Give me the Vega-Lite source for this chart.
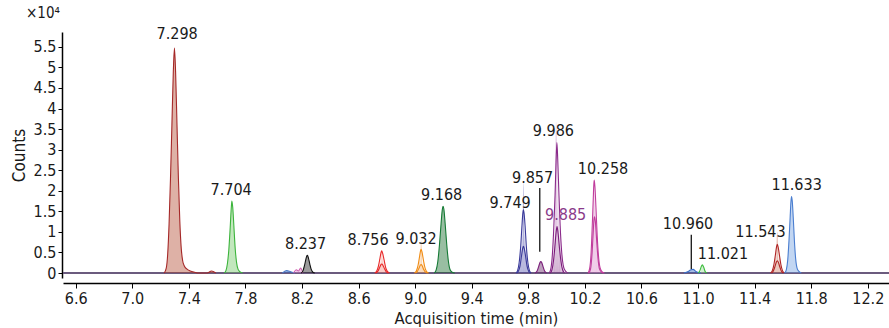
{
  "$schema": "https://vega.github.io/schema/vega-lite/v6.json",
  "width": 826,
  "height": 246,
  "autosize": {"type": "none"},
  "padding": {"left": 63, "top": 32, "right": 0, "bottom": 50},
  "background": "white",
  "config": {"font": "DejaVu Sans Condensed", "view": {"stroke": null}},
  "title": {"text": "×10⁴", "anchor": "start", "frame": "group", "dx": -37, "offset": 5, "fontSize": 15, "fontWeight": "normal", "color": "#1a1a1a", "font": "DejaVu Sans Condensed"},
  "datasets": {
    "traces": [
      {"s":"p1","t":7.225,"v":0},{"s":"p1","t":7.24,"v":0.12},{"s":"p1","t":7.25,"v":0.45},{"s":"p1","t":7.26,"v":1.2},{"s":"p1","t":7.27,"v":2.3},{"s":"p1","t":7.28,"v":3.6},{"s":"p1","t":7.29,"v":4.9},{"s":"p1","t":7.298,"v":5.47},{"s":"p1","t":7.306,"v":4.9},{"s":"p1","t":7.316,"v":3.6},{"s":"p1","t":7.326,"v":2.3},{"s":"p1","t":7.336,"v":1.25},{"s":"p1","t":7.346,"v":0.6},{"s":"p1","t":7.356,"v":0.3},{"s":"p1","t":7.368,"v":0.17},{"s":"p1","t":7.385,"v":0.1},{"s":"p1","t":7.41,"v":0.05},{"s":"p1","t":7.44,"v":0.02},{"s":"p1","t":7.47,"v":0},{"s":"p1","t":7.53,"v":0},{"s":"p1","t":7.56,"v":0.05},{"s":"p1","t":7.59,"v":0},
      {"s":"p2","t":7.65,"v":0},{"s":"p2","t":7.662,"v":0.06},{"s":"p2","t":7.672,"v":0.22},{"s":"p2","t":7.682,"v":0.55},{"s":"p2","t":7.692,"v":1.1},{"s":"p2","t":7.7,"v":1.6},{"s":"p2","t":7.704,"v":1.75},{"s":"p2","t":7.71,"v":1.6},{"s":"p2","t":7.718,"v":1.15},{"s":"p2","t":7.727,"v":0.62},{"s":"p2","t":7.737,"v":0.26},{"s":"p2","t":7.748,"v":0.09},{"s":"p2","t":7.762,"v":0.03},{"s":"p2","t":7.78,"v":0},
      {"s":"nb","t":8.06,"v":0},{"s":"nb","t":8.09,"v":0.06},{"s":"nb","t":8.12,"v":0.03},{"s":"nb","t":8.15,"v":0},
      {"s":"np","t":8.14,"v":0},{"s":"np","t":8.16,"v":0.08},{"s":"np","t":8.175,"v":0.05},{"s":"np","t":8.19,"v":0.12},{"s":"np","t":8.205,"v":0},
      {"s":"p3","t":8.195,"v":0},{"s":"p3","t":8.207,"v":0.06},{"s":"p3","t":8.217,"v":0.18},{"s":"p3","t":8.227,"v":0.33},{"s":"p3","t":8.234,"v":0.42},{"s":"p3","t":8.238,"v":0.43},{"s":"p3","t":8.245,"v":0.37},{"s":"p3","t":8.255,"v":0.22},{"s":"p3","t":8.265,"v":0.09},{"s":"p3","t":8.277,"v":0.02},{"s":"p3","t":8.29,"v":0},
      {"s":"p4","t":8.715,"v":0},{"s":"p4","t":8.728,"v":0.05},{"s":"p4","t":8.74,"v":0.17},{"s":"p4","t":8.75,"v":0.34},{"s":"p4","t":8.758,"v":0.49},{"s":"p4","t":8.763,"v":0.54},{"s":"p4","t":8.77,"v":0.48},{"s":"p4","t":8.78,"v":0.32},{"s":"p4","t":8.791,"v":0.14},{"s":"p4","t":8.803,"v":0.04},{"s":"p4","t":8.818,"v":0},
      {"s":"p4b","t":8.722,"v":0},{"s":"p4b","t":8.735,"v":0.04},{"s":"p4b","t":8.747,"v":0.12},{"s":"p4b","t":8.757,"v":0.2},{"s":"p4b","t":8.764,"v":0.22},{"s":"p4b","t":8.773,"v":0.18},{"s":"p4b","t":8.785,"v":0.09},{"s":"p4b","t":8.798,"v":0.02},{"s":"p4b","t":8.81,"v":0},
      {"s":"p5","t":8.995,"v":0},{"s":"p5","t":9.008,"v":0.05},{"s":"p5","t":9.02,"v":0.18},{"s":"p5","t":9.03,"v":0.38},{"s":"p5","t":9.037,"v":0.53},{"s":"p5","t":9.042,"v":0.58},{"s":"p5","t":9.049,"v":0.5},{"s":"p5","t":9.059,"v":0.3},{"s":"p5","t":9.07,"v":0.12},{"s":"p5","t":9.082,"v":0.03},{"s":"p5","t":9.095,"v":0},
      {"s":"p5b","t":9.002,"v":0},{"s":"p5b","t":9.015,"v":0.04},{"s":"p5b","t":9.027,"v":0.12},{"s":"p5b","t":9.036,"v":0.19},{"s":"p5b","t":9.042,"v":0.21},{"s":"p5b","t":9.05,"v":0.17},{"s":"p5b","t":9.061,"v":0.08},{"s":"p5b","t":9.074,"v":0.02},{"s":"p5b","t":9.088,"v":0},
      {"s":"p6","t":9.135,"v":0},{"s":"p6","t":9.148,"v":0.07},{"s":"p6","t":9.16,"v":0.28},{"s":"p6","t":9.172,"v":0.7},{"s":"p6","t":9.183,"v":1.2},{"s":"p6","t":9.192,"v":1.55},{"s":"p6","t":9.197,"v":1.62},{"s":"p6","t":9.203,"v":1.55},{"s":"p6","t":9.212,"v":1.2},{"s":"p6","t":9.223,"v":0.7},{"s":"p6","t":9.235,"v":0.28},{"s":"p6","t":9.247,"v":0.08},{"s":"p6","t":9.262,"v":0.02},{"s":"p6","t":9.28,"v":0},
      {"s":"p7","t":9.712,"v":0},{"s":"p7","t":9.724,"v":0.06},{"s":"p7","t":9.735,"v":0.25},{"s":"p7","t":9.746,"v":0.65},{"s":"p7","t":9.755,"v":1.15},{"s":"p7","t":9.761,"v":1.45},{"s":"p7","t":9.765,"v":1.54},{"s":"p7","t":9.77,"v":1.45},{"s":"p7","t":9.777,"v":1.15},{"s":"p7","t":9.786,"v":0.65},{"s":"p7","t":9.797,"v":0.25},{"s":"p7","t":9.808,"v":0.06},{"s":"p7","t":9.82,"v":0},
      {"s":"p7b","t":9.718,"v":0},{"s":"p7b","t":9.73,"v":0.05},{"s":"p7b","t":9.741,"v":0.17},{"s":"p7b","t":9.752,"v":0.42},{"s":"p7b","t":9.76,"v":0.6},{"s":"p7b","t":9.765,"v":0.65},{"s":"p7b","t":9.771,"v":0.6},{"s":"p7b","t":9.78,"v":0.42},{"s":"p7b","t":9.791,"v":0.17},{"s":"p7b","t":9.803,"v":0.04},{"s":"p7b","t":9.815,"v":0},
      {"s":"p8","t":9.848,"v":0},{"s":"p8","t":9.862,"v":0.05},{"s":"p8","t":9.874,"v":0.17},{"s":"p8","t":9.883,"v":0.26},{"s":"p8","t":9.888,"v":0.28},{"s":"p8","t":9.894,"v":0.26},{"s":"p8","t":9.903,"v":0.17},{"s":"p8","t":9.915,"v":0.05},{"s":"p8","t":9.93,"v":0},
      {"s":"p9","t":9.948,"v":0},{"s":"p9","t":9.96,"v":0.12},{"s":"p9","t":9.97,"v":0.45},{"s":"p9","t":9.98,"v":1.1},{"s":"p9","t":9.989,"v":1.9},{"s":"p9","t":9.996,"v":2.7},{"s":"p9","t":10.002,"v":3.17},{"s":"p9","t":10.008,"v":2.75},{"s":"p9","t":10.016,"v":1.95},{"s":"p9","t":10.025,"v":1.15},{"s":"p9","t":10.035,"v":0.55},{"s":"p9","t":10.046,"v":0.2},{"s":"p9","t":10.06,"v":0.06},{"s":"p9","t":10.078,"v":0},
      {"s":"p9b","t":9.955,"v":0},{"s":"p9b","t":9.967,"v":0.08},{"s":"p9b","t":9.978,"v":0.3},{"s":"p9b","t":9.988,"v":0.65},{"s":"p9b","t":9.996,"v":0.98},{"s":"p9b","t":10.003,"v":1.13},{"s":"p9b","t":10.01,"v":0.98},{"s":"p9b","t":10.019,"v":0.65},{"s":"p9b","t":10.03,"v":0.3},{"s":"p9b","t":10.042,"v":0.08},{"s":"p9b","t":10.056,"v":0},
      {"s":"p10","t":10.222,"v":0},{"s":"p10","t":10.234,"v":0.12},{"s":"p10","t":10.244,"v":0.5},{"s":"p10","t":10.252,"v":1.15},{"s":"p10","t":10.259,"v":1.8},{"s":"p10","t":10.263,"v":2.15},{"s":"p10","t":10.266,"v":2.26},{"s":"p10","t":10.271,"v":2.1},{"s":"p10","t":10.278,"v":1.6},{"s":"p10","t":10.287,"v":0.9},{"s":"p10","t":10.297,"v":0.38},{"s":"p10","t":10.308,"v":0.12},{"s":"p10","t":10.322,"v":0.03},{"s":"p10","t":10.338,"v":0},
      {"s":"p10b","t":10.228,"v":0},{"s":"p10b","t":10.24,"v":0.1},{"s":"p10b","t":10.25,"v":0.45},{"s":"p10b","t":10.258,"v":0.95},{"s":"p10b","t":10.264,"v":1.3},{"s":"p10b","t":10.268,"v":1.37},{"s":"p10b","t":10.274,"v":1.25},{"s":"p10b","t":10.282,"v":0.85},{"s":"p10b","t":10.292,"v":0.38},{"s":"p10b","t":10.303,"v":0.1},{"s":"p10b","t":10.318,"v":0.02},{"s":"p10b","t":10.332,"v":0},
      {"s":"p11","t":10.9,"v":0},{"s":"p11","t":10.93,"v":0.04},{"s":"p11","t":10.95,"v":0.08},{"s":"p11","t":10.965,"v":0.09},{"s":"p11","t":10.985,"v":0.04},{"s":"p11","t":11.0,"v":0.01},{"s":"p11","t":11.02,"v":0},
      {"s":"p12","t":11.0,"v":0},{"s":"p12","t":11.012,"v":0.05},{"s":"p12","t":11.022,"v":0.15},{"s":"p12","t":11.03,"v":0.2},{"s":"p12","t":11.04,"v":0.14},{"s":"p12","t":11.05,"v":0.04},{"s":"p12","t":11.062,"v":0},
      {"s":"p13","t":11.512,"v":0},{"s":"p13","t":11.525,"v":0.06},{"s":"p13","t":11.536,"v":0.2},{"s":"p13","t":11.546,"v":0.42},{"s":"p13","t":11.554,"v":0.62},{"s":"p13","t":11.56,"v":0.7},{"s":"p13","t":11.567,"v":0.62},{"s":"p13","t":11.576,"v":0.42},{"s":"p13","t":11.586,"v":0.2},{"s":"p13","t":11.597,"v":0.06},{"s":"p13","t":11.61,"v":0},
      {"s":"p13b","t":11.52,"v":0},{"s":"p13b","t":11.532,"v":0.05},{"s":"p13b","t":11.543,"v":0.15},{"s":"p13b","t":11.553,"v":0.26},{"s":"p13b","t":11.56,"v":0.3},{"s":"p13b","t":11.568,"v":0.26},{"s":"p13b","t":11.578,"v":0.15},{"s":"p13b","t":11.589,"v":0.05},{"s":"p13b","t":11.602,"v":0},
      {"s":"p14","t":11.612,"v":0},{"s":"p14","t":11.624,"v":0.08},{"s":"p14","t":11.634,"v":0.32},{"s":"p14","t":11.643,"v":0.8},{"s":"p14","t":11.651,"v":1.35},{"s":"p14","t":11.657,"v":1.75},{"s":"p14","t":11.661,"v":1.86},{"s":"p14","t":11.666,"v":1.75},{"s":"p14","t":11.673,"v":1.35},{"s":"p14","t":11.681,"v":0.8},{"s":"p14","t":11.69,"v":0.35},{"s":"p14","t":11.7,"v":0.12},{"s":"p14","t":11.713,"v":0.04},{"s":"p14","t":11.73,"v":0}
    ],
    "base": [{"t":6.51,"v":0},{"t":12.35,"v":0}],
    "leaders": [{"t":9.881,"v1":2.07,"v2":0.52},{"t":10.952,"v1":0.93,"v2":0.1}],
    "labels": [
      {"label":"7.298","t":7.317,"v":5.81},
      {"label":"7.704","t":7.699,"v":2.02},
      {"label":"8.237","t":8.225,"v":0.7},
      {"label":"8.756","t":8.667,"v":0.8},
      {"label":"9.032","t":9.006,"v":0.84},
      {"label":"9.168","t":9.187,"v":1.9},
      {"label":"9.749","t":9.671,"v":1.71},
      {"label":"9.857","t":9.83,"v":2.31},
      {"label":"9.986","t":9.977,"v":3.45},
      {"label":"9.885","t":10.064,"v":1.41},
      {"label":"10.258","t":10.328,"v":2.53},
      {"label":"10.960","t":10.929,"v":1.2},
      {"label":"11.021","t":11.176,"v":0.46},
      {"label":"11.543","t":11.441,"v":1.0},
      {"label":"11.633","t":11.697,"v":2.14}
    ]
  },
  "encoding": {
    "x": {"field": "t", "type": "quantitative",
      "scale": {"domain": [6.51, 12.35], "nice": false, "zero": false},
      "axis": {"title": "Acquisition time (min)", "values": [6.6,7.0,7.4,7.8,8.2,8.6,9.0,9.4,9.8,10.2,10.6,11.0,11.4,11.8,12.2], "format": ".1f", "offset": 5, "grid": false, "domainColor": "#000", "domainWidth": 1.5, "tickColor": "#000", "tickSize": 5, "labelFontSize": 16, "labelColor": "#1a1a1a", "labelPadding": 2, "titleFontSize": 16.5, "titleFontWeight": "normal", "titleColor": "#1a1a1a", "titlePadding": 4}},
    "y": {"field": "v", "type": "quantitative",
      "scale": {"domain": [-0.12, 5.86], "nice": false, "zero": false},
      "axis": {"title": "Counts", "values": [0,0.5,1,1.5,2,2.5,3,3.5,4,4.5,5,5.5], "format": "~g", "offset": 1, "grid": false, "domainColor": "#000", "domainWidth": 1.5, "tickColor": "#000", "tickSize": 4, "labelFontSize": 16, "labelColor": "#1a1a1a", "labelPadding": 2, "titleFontSize": 17, "titleFontWeight": "normal", "titleColor": "#1a1a1a", "titlePadding": 5}}
  },
  "layer": [
    {
      "data": {"name": "base"},
      "mark": {"type": "line", "color": "#6b5b7e", "strokeWidth": 2},
      "encoding": {}
    },
    {
      "data": {"name": "traces"},
      "mark": {"type": "area", "fillOpacity": 0.42, "interpolate": "monotone"},
      "encoding": {
        "detail": {"field": "s"},
        "fill": {"field": "s", "type": "nominal", "legend": null,
          "scale": {"domain": ["p1","p2","nb","np","p3","p4","p4b","p5","p5b","p6","p7","p7b","p8","p9","p9b","p10","p10b","p11","p12","p13","p13b","p14"],
                    "range": ["#b1462b","#6ec561","#2f61be","#d97bc5","#141414","#f37b6e","#f37b6e","#f3a350","#f3a350","#0d6421","#4646aa","#4646aa","#611e61","#be82be","#8a3a8a","#d97bc5","#d97bc5","#2f61be","#96dc96","#cb6e53","#cb6e53","#6e9ddf"]}}
      }
    },
    {
      "data": {"name": "traces"},
      "mark": {"type": "line", "strokeWidth": 1.1, "interpolate": "monotone"},
      "encoding": {
        "detail": {"field": "s"},
        "stroke": {"field": "s", "type": "nominal", "legend": null,
          "scale": {"domain": ["p1","p2","nb","np","p3","p4","p4b","p5","p5b","p6","p7","p7b","p8","p9","p9b","p10","p10b","p11","p12","p13","p13b","p14"],
                    "range": ["#a52828","#3cb43c","#4a7ac8","#d060b0","#111111","#e82828","#e82828","#f08c14","#f08c14","#157a35","#3a3a9a","#3a3a9a","#7a1e7a","#8a2a8a","#7a1a7a","#c03c9c","#c03c9c","#3a70c8","#3cbc3c","#b02424","#b02424","#4a7ed0"]}}
      }
    },
    {
      "data": {"name": "leaders"},
      "mark": {"type": "rule", "color": "#000", "strokeWidth": 1.2},
      "encoding": {"y": {"field": "v1", "type": "quantitative"}, "y2": {"field": "v2"}}
    },
    {
      "data": {"name": "labels"},
      "mark": {"type": "text", "fontSize": 16, "align": "center", "baseline": "middle"},
      "encoding": {
        "text": {"field": "label"},
        "color": {"condition": {"test": "datum.label === '9.885'", "value": "#8a3a8a"}, "value": "#1a1a1a"}
      }
    }
  ]
}
